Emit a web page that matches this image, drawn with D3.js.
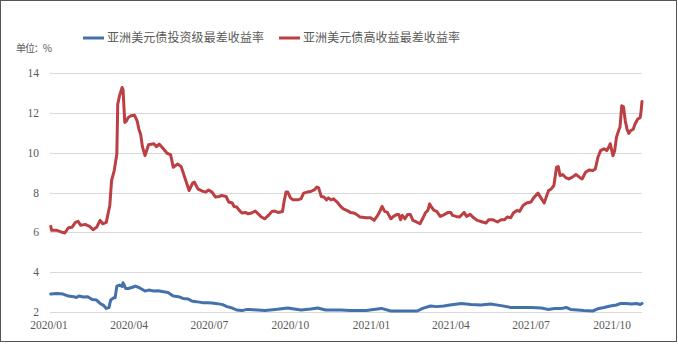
<!DOCTYPE html>
<html>
<head>
  <meta charset="utf-8">
  <style>
    body{
      margin:0;
      background:#fff;
    }
    .tick-label{
      font-family: "Liberation Serif", "DejaVu Serif", serif;
      font-size: 11.5px;
      fill: #595959;
    }
    .legend-label{
      font-family: "Noto Sans CJK SC", sans-serif;
      font-size: 12px;
      fill: #595959;
    }
    .unit-label{
      font-family: "Noto Sans CJK SC", sans-serif;
      font-size: 10px;
      fill: #595959;
    }
  </style>
  <script src="https://d3js.org/d3.v7.min.js"></script>
</head>
<body>
<div class="chart"></div>
<script>
const seriesNames = ['亚洲美元债投资级最差收益率', '亚洲美元债高收益最差收益率'];
const unitLabel = '单位：%';
const xTickLabels = ['2020/01', '2020/04', '2020/07', '2020/10', '2021/01', '2021/04', '2021/07', '2021/10'];
const yTicks = [2, 4, 6, 8, 10, 12, 14];

// high yield (red)
const hyDates = [
  '2020-01-03','2020-01-04','2020-01-10','2020-01-16','2020-01-19','2020-01-23','2020-01-27','2020-01-31',
  '2020-02-03','2020-02-06','2020-02-11','2020-02-16','2020-02-20','2020-02-24','2020-02-28',
  '2020-03-02','2020-03-06','2020-03-08','2020-03-10','2020-03-12','2020-03-15','2020-03-18','2020-03-19',
  '2020-03-21','2020-03-24','2020-03-25','2020-03-27','2020-03-29','2020-03-31',
  '2020-04-03','2020-04-07','2020-04-10','2020-04-12','2020-04-14','2020-04-16','2020-04-19','2020-04-23','2020-04-29',
  '2020-05-02','2020-05-05','2020-05-10','2020-05-14','2020-05-18','2020-05-21','2020-05-26','2020-05-30',
  '2020-06-03','2020-06-08','2020-06-12','2020-06-14','2020-06-18','2020-06-23','2020-06-27','2020-06-30',
  '2020-07-04','2020-07-08','2020-07-12','2020-07-15','2020-07-20','2020-07-23','2020-07-27','2020-07-29',
  '2020-08-01','2020-08-04','2020-08-07','2020-08-11','2020-08-14','2020-08-18','2020-08-22','2020-08-26','2020-08-29',
  '2020-09-02','2020-09-06','2020-09-10','2020-09-13','2020-09-17','2020-09-22','2020-09-24','2020-09-26','2020-09-28',
  '2020-10-01','2020-10-04','2020-10-09','2020-10-13','2020-10-16','2020-10-20','2020-10-24','2020-10-28','2020-10-31',
  '2020-11-02','2020-11-05','2020-11-08','2020-11-11','2020-11-13','2020-11-16','2020-11-19','2020-11-23','2020-11-27','2020-11-30',
  '2020-12-04','2020-12-08','2020-12-12','2020-12-15','2020-12-19','2020-12-26','2020-12-31',
  '2021-01-04','2021-01-08','2021-01-11','2021-01-13','2021-01-16','2021-01-19','2021-01-23','2021-01-26','2021-01-30',
  '2021-02-01','2021-02-03','2021-02-05','2021-02-08','2021-02-11','2021-02-14','2021-02-17','2021-02-21','2021-02-25','2021-02-28',
  '2021-03-03','2021-03-06','2021-03-08','2021-03-10','2021-03-13','2021-03-16','2021-03-20','2021-03-24','2021-03-29',
  '2021-04-01','2021-04-03','2021-04-07','2021-04-11','2021-04-16','2021-04-19','2021-04-23','2021-04-27',
  '2021-05-01','2021-05-07','2021-05-11','2021-05-14','2021-05-19','2021-05-24','2021-05-28',
  '2021-06-01','2021-06-04','2021-06-08','2021-06-11','2021-06-15','2021-06-18','2021-06-22','2021-06-26',
  '2021-07-01','2021-07-04','2021-07-09','2021-07-13','2021-07-16','2021-07-18','2021-07-21','2021-07-24','2021-07-27','2021-07-30',
  '2021-08-01','2021-08-03','2021-08-06','2021-08-10','2021-08-13','2021-08-17','2021-08-21','2021-08-25','2021-08-28',
  '2021-09-01','2021-09-05','2021-09-09','2021-09-12','2021-09-15','2021-09-18','2021-09-22','2021-09-25','2021-09-28','2021-09-29',
  '2021-10-02','2021-10-04','2021-10-06','2021-10-09','2021-10-10','2021-10-12','2021-10-14','2021-10-16','2021-10-18',
  '2021-10-20','2021-10-22','2021-10-25','2021-10-27','2021-10-30','2021-11-02','2021-11-03','2021-11-04'
];
const hyValues = [
  6.3, 6.1, 6.1, 6.0, 5.97, 6.23, 6.25, 6.5,
  6.55, 6.35, 6.4, 6.3, 6.13, 6.25, 6.6,
  6.43, 6.5, 6.93, 7.35, 8.6, 9.1, 9.93, 12.43,
  12.85, 13.27, 13.18, 11.52, 11.6, 11.77,
  11.85, 11.88, 11.6, 11.18, 10.93, 10.3, 9.85, 10.4, 10.45,
  10.3, 10.43, 10.18, 9.97, 9.9, 9.27, 9.43, 9.3,
  8.77, 8.1, 8.47, 8.52, 8.18, 8.07, 8.02, 8.13,
  8.02, 7.77, 7.8, 7.85, 7.8, 7.52, 7.47, 7.3,
  7.27, 7.1, 6.97, 7.0, 6.93, 6.97, 7.07, 6.9, 6.77,
  6.68, 6.85, 7.05, 7.07, 7.0, 7.05, 7.6, 8.02, 8.02,
  7.73, 7.63, 7.63, 7.68, 7.97, 8.02, 8.05, 8.13, 8.27,
  8.23, 7.8, 7.77, 7.63, 7.73, 7.63, 7.68, 7.52, 7.3, 7.18,
  7.1, 7.0, 6.97, 6.9, 6.77, 6.73, 6.73,
  6.6, 6.85, 7.1, 7.3, 7.05, 7.0, 6.68, 6.8, 6.9,
  6.9, 6.63, 6.85, 6.68, 6.9, 6.9, 6.6, 6.52, 6.43, 6.68,
  6.97, 7.1, 7.43, 7.27, 7.1, 7.05, 6.8, 6.88, 7.0,
  7.0, 6.85, 6.8, 6.77, 7.0, 6.8, 6.9, 6.73,
  6.6, 6.52, 6.47, 6.63, 6.63, 6.52, 6.63,
  6.63, 6.77, 6.73, 6.97, 7.1, 7.05, 7.35, 7.47,
  7.52, 7.73, 7.97, 7.68, 7.47, 7.73, 8.1, 8.18, 8.35, 9.27,
  9.3, 8.85, 8.9, 8.73, 8.68, 8.77, 8.9, 8.77, 8.68,
  9.02, 9.13, 9.1, 9.18, 9.77, 10.1, 10.2, 10.1, 10.35, 10.45,
  9.85, 10.1, 10.77, 11.18, 11.27, 12.35, 12.3, 11.6, 11.18,
  10.97, 11.1, 11.18, 11.43, 11.68, 11.77, 12.1, 12.57
];

// investment grade (blue)
const igDates = [
  '2020-01-03','2020-01-10','2020-01-17','2020-01-23','2020-01-29','2020-02-01','2020-02-04','2020-02-09',
  '2020-02-14','2020-02-19','2020-02-24','2020-02-28','2020-03-03','2020-03-06','2020-03-09','2020-03-11',
  '2020-03-15','2020-03-16','2020-03-18','2020-03-21','2020-03-24','2020-03-25','2020-03-28','2020-03-31',
  '2020-04-04','2020-04-08','2020-04-12','2020-04-16','2020-04-19','2020-04-23','2020-04-29',
  '2020-05-04','2020-05-10','2020-05-15','2020-05-21','2020-05-27','2020-06-01','2020-06-07','2020-06-11',
  '2020-06-16','2020-06-23','2020-06-29','2020-07-04','2020-07-10','2020-07-16','2020-07-21','2020-07-27',
  '2020-08-01','2020-08-07','2020-08-13','2020-08-16','2020-09-02','2020-09-14','2020-09-28','2020-10-13',
  '2020-10-24','2020-11-01','2020-11-10','2020-11-27','2020-12-08','2020-12-26','2021-01-12','2021-01-23',
  '2021-02-11','2021-02-22','2021-02-28','2021-03-09','2021-03-16','2021-03-24','2021-03-31','2021-04-13',
  '2021-04-24','2021-05-05','2021-05-16','2021-05-28','2021-06-08','2021-06-19','2021-07-01','2021-07-13',
  '2021-07-20','2021-07-28','2021-08-04','2021-08-10','2021-08-15','2021-08-23','2021-08-30','2021-09-09',
  '2021-09-16','2021-09-22','2021-09-29','2021-10-06','2021-10-11','2021-10-17','2021-10-23','2021-10-29',
  '2021-11-02','2021-11-04'
];
const igValues = [
  2.9, 2.93, 2.9, 2.8, 2.77, 2.73, 2.8, 2.75,
  2.77, 2.63, 2.6, 2.43, 2.33, 2.18, 2.22, 2.6,
  2.73, 2.72, 3.3, 3.35, 3.28, 3.47, 3.18, 3.18,
  3.23, 3.3, 3.23, 3.13, 3.05, 3.1, 3.05,
  3.07, 3.02, 2.98, 2.8, 2.77, 2.68, 2.65, 2.55,
  2.52, 2.47, 2.47, 2.45, 2.42, 2.37, 2.27, 2.2,
  2.1, 2.07, 2.13, 2.12, 2.08, 2.13, 2.2, 2.1,
  2.15, 2.2, 2.1, 2.1, 2.08, 2.07, 2.18, 2.05,
  2.05, 2.05, 2.18, 2.3, 2.27, 2.3, 2.35, 2.43,
  2.38, 2.35, 2.4, 2.32, 2.23, 2.23, 2.22, 2.2,
  2.13, 2.18, 2.17, 2.23, 2.13, 2.1, 2.07, 2.05,
  2.18, 2.23, 2.3, 2.35, 2.43, 2.43, 2.4, 2.43,
  2.38, 2.43
];

const colors = ['#4471ab', '#bb3f43'];

const width = 678;
const height = 344;
const parseDate = d3.timeParse('%Y-%m-%d');
const parseTick = d3.timeParse('%Y/%m');

const svg = d3.select('.chart')
  .append('svg')
  .attr('width', width)
  .attr('height', height);

// frame round the picture
svg.append('rect')
  .attr('x', 0.5)
  .attr('y', 0.5)
  .attr('width', width - 2)
  .attr('height', height - 3)
  .attr('fill', '#fff')
  .attr('stroke', '#555')
  .attr('stroke-width', 1);

const x = d3.scaleTime()
  .domain([parseDate('2020-01-01'), parseDate('2021-11-04')])
  .range([49, 642]);

const y = d3.scaleLinear()
  .domain([2, 14])
  .range([312, 73]);

// grid
svg.append('g')
  .selectAll('line')
  .data(yTicks)
  .enter()
  .append('line')
  .attr('x1', 50)
  .attr('x2', 642)
  .attr('y1', d => Math.round(y(d)) + 0.5)
  .attr('y2', d => Math.round(y(d)) + 0.5)
  .attr('stroke', '#d9d9d9')
  .attr('stroke-width', 1);

// y labels
svg.append('g')
  .selectAll('text')
  .data(yTicks)
  .enter()
  .append('text')
  .attr('class', 'tick-label')
  .attr('x', 39)
  .attr('y', d => y(d))
  .attr('dy', '0.35em')
  .attr('text-anchor', 'end')
  .text(d => d);

// x labels
svg.append('g')
  .selectAll('text')
  .data(xTickLabels)
  .enter()
  .append('text')
  .attr('class', 'tick-label')
  .attr('x', d => x(parseTick(d)))
  .attr('y', 329)
  .attr('text-anchor', 'middle')
  .text(d => d);

const line = d3.line()
  .x(d => x(d.date))
  .y(d => y(d.value));

const series = [
  igDates.map((d, i) => ({date: parseDate(d), value: igValues[i]})),
  hyDates.map((d, i) => ({date: parseDate(d), value: hyValues[i]}))
];

svg.append('g')
  .selectAll('path')
  .data(series)
  .enter()
  .append('path')
  .attr('d', line)
  .attr('fill', 'none')
  .attr('stroke', (d, i) => colors[i])
  .attr('stroke-width', 3)
  .attr('stroke-linejoin', 'round')
  .attr('stroke-linecap', 'round');

// legend
const legendX = [83, 279];
const legend = svg.append('g')
  .selectAll('g')
  .data(seriesNames)
  .enter()
  .append('g')
  .attr('transform', (d, i) => `translate(${legendX[i]}, 38)`);

legend.append('line')
  .attr('x1', 0)
  .attr('x2', 21)
  .attr('stroke', (d, i) => colors[i])
  .attr('stroke-width', 3);

legend.append('text')
  .attr('class', 'legend-label')
  .attr('x', 24)
  .attr('dy', '0.35em')
  .attr('textLength', 157)
  .attr('lengthAdjust', 'spacing')
  .text(d => d);

svg.append('text')
  .attr('class', 'unit-label')
  .attr('x', 16)
  .attr('y', 48)
  .attr('dy', '0.35em')
  .attr('textLength', 36)
  .attr('lengthAdjust', 'spacing')
  .text(unitLabel);
</script>
</body>
</html>
